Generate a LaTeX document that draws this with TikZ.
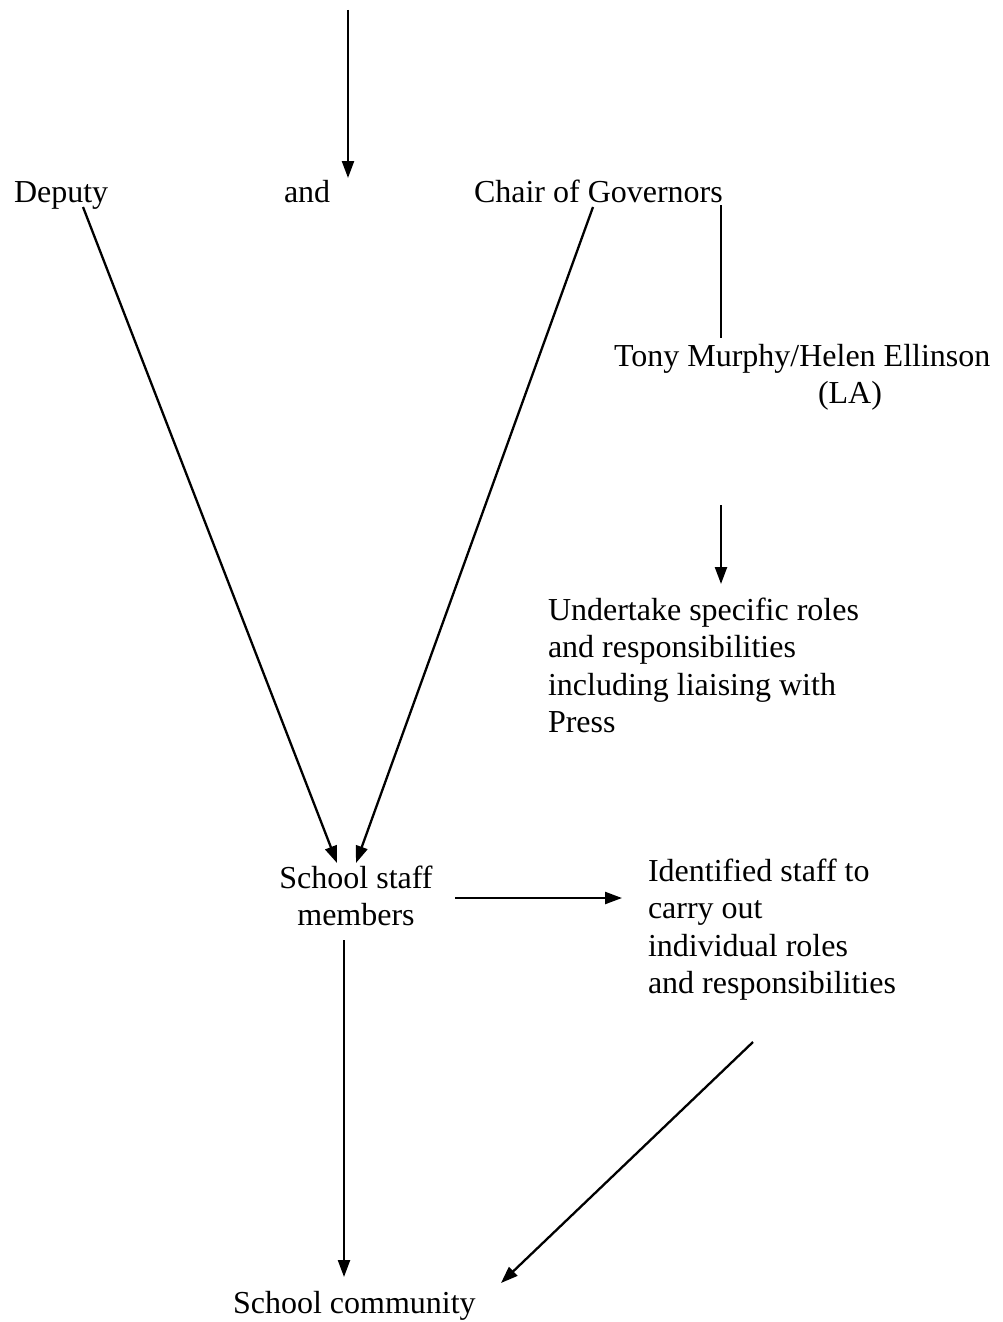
\documentclass[tikz,border=0pt]{standalone}
\usepackage{fontspec}
\setmainfont{Liberation Serif}
\usetikzlibrary{arrows.meta}
\begin{document}
\begin{tikzpicture}[x=1pt,y=-1pt,
  lbl/.style={inner sep=0pt,outer sep=0pt,font=\fontsize{32}{37.6}\selectfont,anchor=base west,align=left},
  conn/.style={line width=2.3pt},
  arr/.style={conn,-{Triangle[length=17pt,width=12pt]}}]
\path[use as bounding box,fill=white] (0,0) rectangle (1003,1322);
% texts (anchor = baseline of the last line)
\node[lbl] (deputy) at (14,202) {Deputy};
\node[lbl] (and) at (284,202) {and};
\node[lbl] (chair) at (474,202) {Chair of Governors};
\node[lbl] (tony) at (614,403.6) {Tony Murphy/Helen Ellinson\\\hspace*{204pt}(LA)};
\node[lbl] (undertake) at (548,732.8) {Undertake specific roles\\and responsibilities\\including liaising with\\Press};
\node[lbl,align=center,anchor=base] (staff) at (356,925.6) {School staff\\members};
\node[lbl] (identified) at (648,993.8) {Identified staff to\\carry out\\individual roles\\and responsibilities};
\node[lbl] (community) at (233,1313) {School community};
% connector end points
\coordinate (top) at (348,10);
\coordinate (topend) at (348,178);
\coordinate (dstart) at (83,207);
\coordinate (dend) at (337,863);
\coordinate (cstart) at (593,207);
\coordinate (cend) at (356,863);
\coordinate (gstart) at (721,205);
\coordinate (gend) at (721,338);
\coordinate (tstart) at (721,505);
\coordinate (tend) at (721,584);
\coordinate (sright) at (455,898);
\coordinate (iend) at (622,898);
\coordinate (sdown) at (344,940);
\coordinate (cmtop) at (344,1277);
\coordinate (istart) at (753,1042);
\coordinate (cmright) at (501,1283);
% connectors
\draw[arr] (top) -- (topend);
\draw[arr] (dstart) -- (dend);
\draw[arr] (cstart) -- (cend);
\draw[conn] (gstart) -- (gend);
\draw[arr] (tstart) -- (tend);
\draw[arr] (sright) -- (iend);
\draw[arr] (sdown) -- (cmtop);
\draw[arr] (istart) -- (cmright);
\end{tikzpicture}
\end{document}
